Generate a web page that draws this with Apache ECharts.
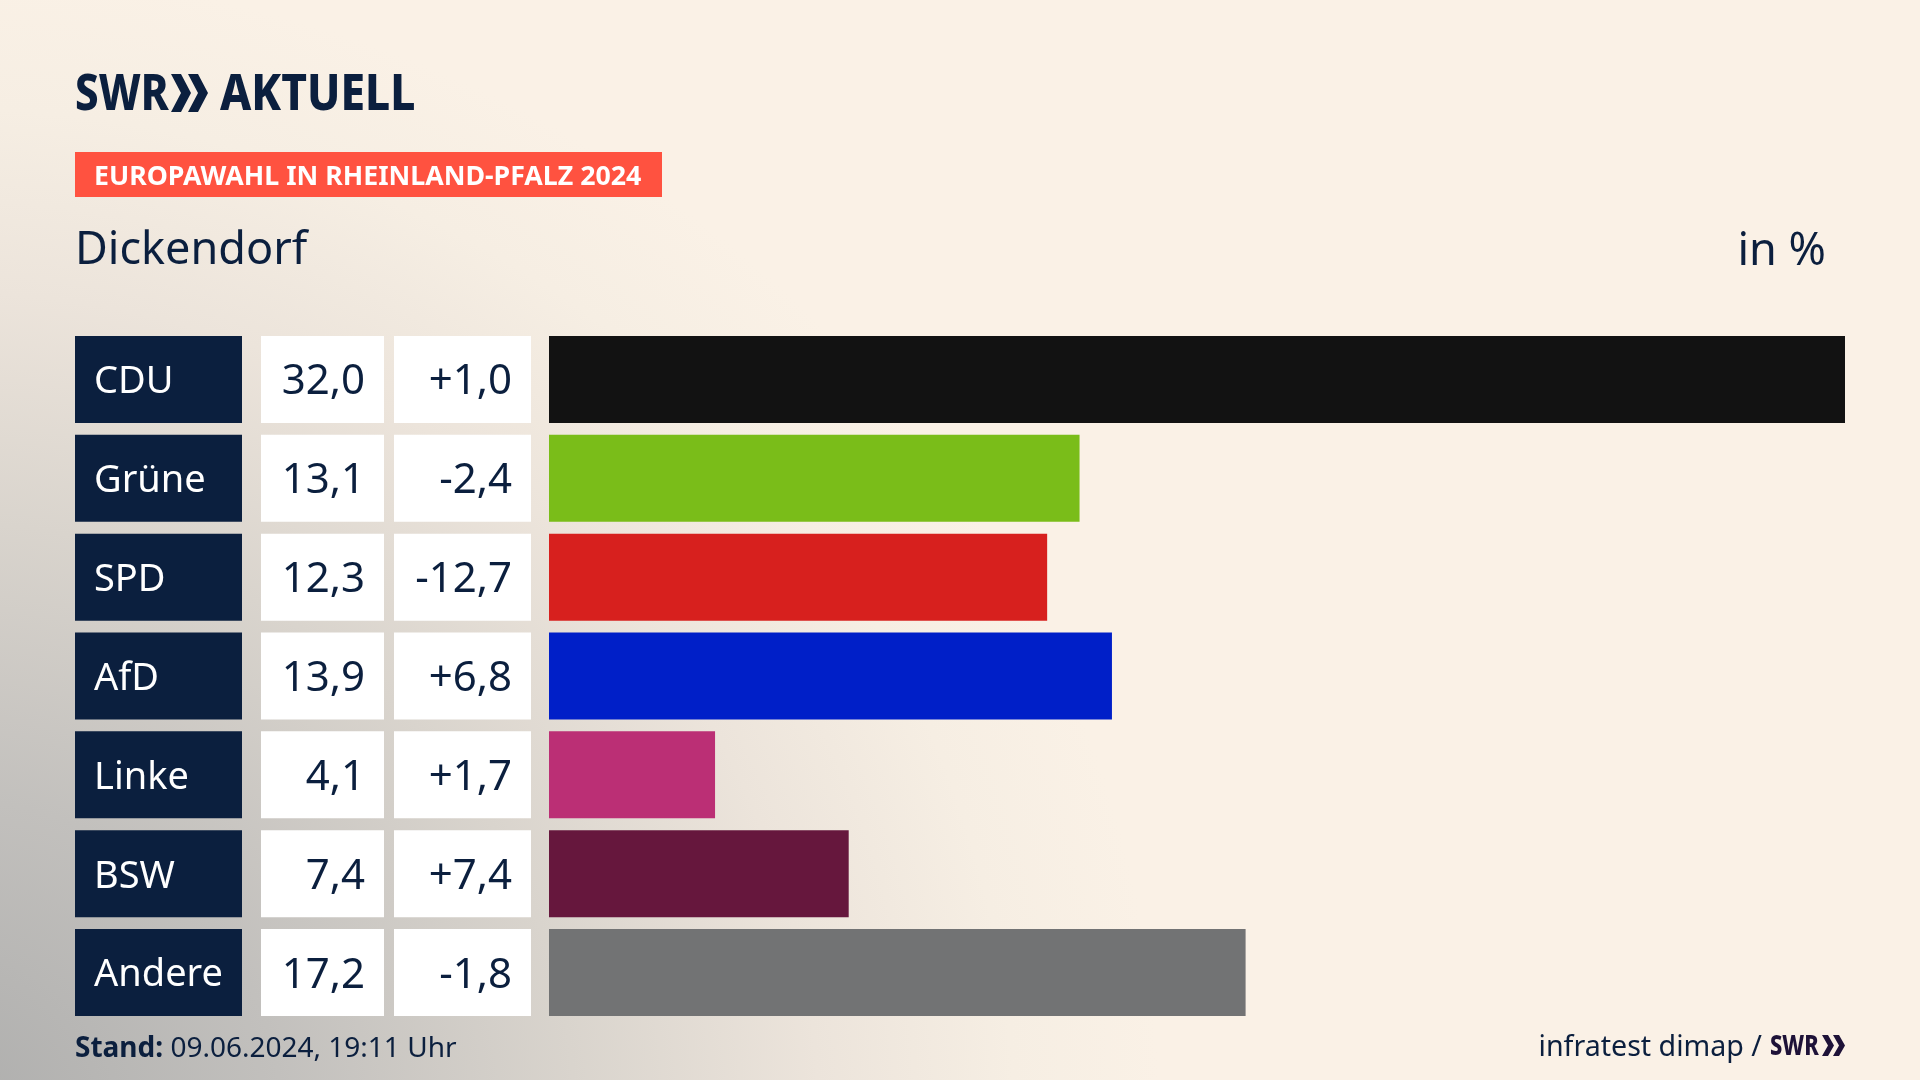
<!DOCTYPE html>
<html><head><meta charset="utf-8">
<style>
html,body{margin:0;padding:0;width:1920px;height:1080px;overflow:hidden;background:#faf1e6}
#bg{position:absolute;left:0;top:0;width:1920px;height:1080px;
background:radial-gradient(ellipse 1220px 1150px at -60px 1120px,#adadac 0%,#c2c0bd 28%,#d9d4cd 52%,#ece4db 72%,#f6eee3 88%,#faf1e6 100%)}
#c{position:absolute;left:0;top:0;width:1920px;height:1080px}
</style>
<script src="https://cdn.jsdelivr.net/npm/echarts@6/dist/echarts.min.js"></script>
</head><body><div id="bg"></div><div id="c"></div>
<script>
const categories=['CDU','Grüne','SPD','AfD','Linke','BSW','Andere'];
const shares=[32.0,13.1,12.3,13.9,4.1,7.4,17.2];
const changes=[1.0,-2.4,-12.7,6.8,1.7,7.4,-1.8];
const colors=['#121212','#7abd19','#d7201e','#001fc8','#bb2f75','#66173d','#727374'];
const tagText='EUROPAWAHL IN RHEINLAND-PFALZ 2024';
const regionText='Dickendorf';
const unitText='in %';
const standLabel='Stand:';
const standText='09.06.2024, 19:11 Uhr';
const sourceText='infratest dimap /';

const navy='#0b1f3e', F='"Noto Sans",sans-serif';
const de=v=>v.toFixed(1).replace('.',',');
const signed=v=>(v>0?'+':'')+de(v);
const cellAxis=(data,off,w,pad,bg,col,align,size)=>({
  type:'category',inverse:true,data,position:'left',offset:off,
  axisLine:{show:false},axisTick:{show:false},splitLine:{show:false},
  axisLabel:{interval:0,margin:0,hideOverlap:false,align,verticalAlign:'middle',
    width:w-pad,height:87,overflow:'none',
    padding:align==='left'?[0,0,0,pad]:[0,pad,0,0],
    backgroundColor:bg,color:col,fontFamily:F,fontSize:size,
    formatter:v=>'{a|'+v+'}',
    rich:{a:{align,lineHeight:93,color:col,fontFamily:F,fontSize:size}}}
});
const chev=(x,y,w,h,t,c)=>({type:'polygon',shape:{points:[[x,y],[x+t,y],[x+w,y+h/2],[x+t,y+h],[x,y+h],[x+w-t,y+h/2]]},style:{fill:c||navy}});
const txt=(x,y,text,size,o={})=>({type:'text',x,y,scaleX:o.sx||1,style:{text,fontFamily:F,fontSize:size,fontWeight:o.w||400,fill:o.c||navy,align:o.a||'left',verticalAlign:'middle'}});

const chart=echarts.init(document.getElementById('c'),null,{renderer:'canvas',width:1920,height:1080});
chart.setOption({
  animation:false,backgroundColor:'transparent',
  grid:{left:549,top:330,width:1296,height:692,containLabel:false},
  xAxis:{type:'value',min:0,max:32,show:false},
  yAxis:[
    cellAxis(categories,474,167,19,navy,'#ffffff','left',38),
    cellAxis(shares.map(de),165,123,19,'#ffffff',navy,'right',42),
    cellAxis(changes.map(signed),18,137,19,'#ffffff',navy,'right',42)
  ],
  series:[{type:'bar',yAxisIndex:0,barWidth:87,silent:true,
    data:shares.map((v,i)=>({value:v,itemStyle:{color:colors[i]}}))}],
  graphic:[
    txt(75,96,'SWR',50,{w:800,sx:0.84}),
    chev(171,74,20,38,10),chev(188,74,20,38,10),
    txt(220,96,'AKTUELL',50,{w:800,sx:0.885}),
    {type:'rect',shape:{x:75,y:152,width:587,height:45},style:{fill:'#ff5240'}},
    txt(94,177,tagText,27,{w:700,c:'#ffffff',sx:0.99}),
    txt(75,251,regionText,45),
    txt(1826,252,unitText,45,{a:'right'}),
    {type:'text',x:75,y:1049,style:{fontFamily:F,fontSize:28,fill:navy,verticalAlign:'middle',
      rich:{b:{fontWeight:700,fontFamily:F,fontSize:28,fill:navy},n:{fontFamily:F,fontSize:28,fill:navy}},
      text:'{b|'+standLabel+'} {n|'+standText+'}'}},
    txt(1762,1048,sourceText,28.6,{a:'right'}),
    txt(1770,1047,'SWR',28,{w:800,c:'#1e1238',sx:0.78}),
    chev(1822,1035,12,21,6,'#1e1238'),chev(1833,1035,12,21,6,'#1e1238')
  ]
});
</script></body></html>
